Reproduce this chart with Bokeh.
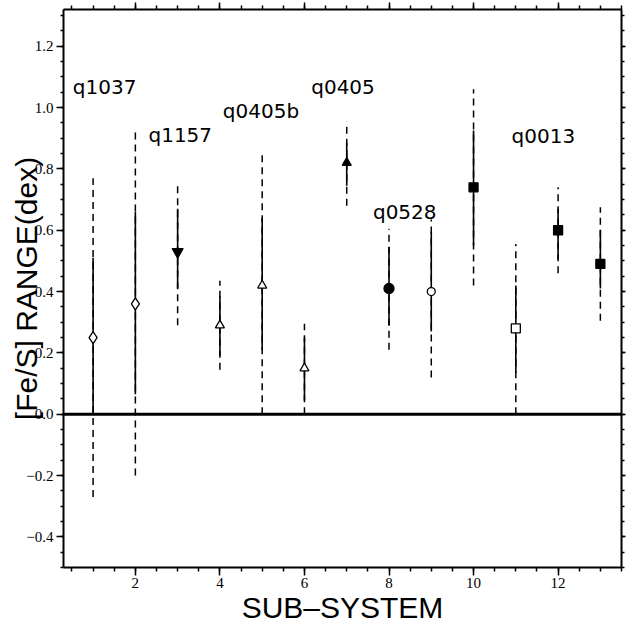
from bokeh.plotting import figure
from bokeh.models import LinearAxis, FixedTicker, Span, ColumnDataSource
from bokeh.core.properties import value
from bokeh.embed import file_html
from bokeh.resources import INLINE

# ---- data ----
subsystem = [1, 2, 3, 4, 5, 6, 7, 8, 9, 10, 11, 12, 13]
fes_value = [0.25, 0.36, 0.53, 0.29, 0.42, 0.15, 0.82, 0.41, 0.40, 0.74, 0.28, 0.60, 0.49]
solid_lo = [0.00, 0.065, 0.41, 0.19, 0.21, 0.045, 0.745, 0.29, 0.27, 0.55, 0.135, 0.505, 0.41]
solid_hi = [0.51, 0.66, 0.67, 0.385, 0.64, 0.25, 0.885, 0.545, 0.595, 0.925, 0.42, 0.67, 0.60]
dash_lo = [-0.27, -0.20, 0.29, 0.145, 0.00, 0.00, 0.68, 0.21, 0.12, 0.42, 0.00, 0.46, 0.305]
dash_hi = [0.77, 0.925, 0.75, 0.435, 0.845, 0.295, 0.955, 0.605, 0.635, 1.06, 0.555, 0.74, 0.675]
marker_kind = ["diamond", "diamond", "inverted_triangle", "triangle", "triangle", "triangle",
               "triangle", "circle", "circle", "square", "square", "square", "square"]
marker_filled = [False, False, True, False, False, False, True, True, False, True, False, True, True]
marker_size = [12, 12, 11, 9, 9, 9, 9, 10, 8, 9, 9, 9, 9]

qso_names = ["q1037", "q1157", "q0405b", "q0405", "q0528", "q0013"]
qso_x = [0.52, 2.31, 4.07, 6.16, 7.62, 10.9]
qso_y = [1.068, 0.912, 0.99, 1.066, 0.658, 0.907]

x_major = [2, 4, 6, 8, 10, 12]
y_major = [-0.4, -0.2, 0.0, 0.2, 0.4, 0.6, 0.8, 1.0, 1.2]
y_labels = ["\u22120.4", "\u22120.2", "0.0", "0.2", "0.4", "0.6", "0.8", "1.0", "1.2"]

x_minor = [0.5 * i for i in range(1, 28)]
y_minor = [round(-0.5 + 0.05 * i, 2) for i in range(0, 37)]

# ---- figure ----
p = figure(width=626, height=626, x_range=(0.3, 13.5), y_range=(-0.5, 1.32),
           output_backend="svg", toolbar_location=None,
           min_border_left=63, min_border_right=5, min_border_top=9, min_border_bottom=58)
p.outline_line_color = None
p.xgrid.visible = False
p.ygrid.visible = False
p.background_fill_color = "white"
p.border_fill_color = "white"

tick_font = "Liberation Serif"

def common(ax):
    ax.axis_line_color = "black"
    ax.axis_line_width = 2
    ax.major_tick_line_color = "black"
    ax.minor_tick_line_color = "black"
    ax.major_tick_line_width = 1.5
    ax.minor_tick_line_width = 1.5
    ax.major_tick_in = 0
    ax.minor_tick_in = 0
    ax.major_label_text_font = tick_font
    ax.major_label_text_color = "black"

def style_x(ax, labels=True):
    common(ax)
    ax.ticker = FixedTicker(ticks=x_major, minor_ticks=x_minor)
    if labels:
        ax.major_tick_out = 8
        ax.minor_tick_out = 4
        ax.major_label_text_font_size = "15px"
        ax.major_label_standoff = 2
    else:
        ax.major_tick_out = 7
        ax.minor_tick_out = 4
        ax.major_label_text_font_size = "1px"
        ax.major_label_standoff = 0
        ax.major_label_overrides = {v: "" for v in x_major}

def style_y(ax, labels=True):
    common(ax)
    ax.ticker = FixedTicker(ticks=y_major, minor_ticks=y_minor)
    if labels:
        ax.major_tick_out = 7
        ax.minor_tick_out = 3
        ax.major_label_text_font_size = "15px"
        ax.major_label_standoff = 3
        ax.major_label_overrides = {v: s for v, s in zip(y_major, y_labels)}
    else:
        ax.major_tick_out = 4
        ax.minor_tick_out = 3
        ax.major_label_text_font_size = "1px"
        ax.major_label_standoff = 0
        ax.major_label_overrides = {v: "" for v in y_major}

style_x(p.xaxis[0])
style_y(p.yaxis[0])

p.xaxis[0].axis_label = "SUB\u2013SYSTEM"
p.xaxis[0].axis_label_text_font = "Liberation Sans"
p.xaxis[0].axis_label_text_font_size = "30px"
p.xaxis[0].axis_label_text_font_style = "normal"
p.xaxis[0].axis_label_text_color = "black"
p.xaxis[0].axis_label_standoff = 0

p.yaxis[0].axis_label = "[Fe/S] RANGE(dex)"
p.yaxis[0].axis_label_text_font = "Liberation Sans"
p.yaxis[0].axis_label_text_font_size = "30px"
p.yaxis[0].axis_label_text_font_style = "normal"
p.yaxis[0].axis_label_text_color = "black"
p.yaxis[0].axis_label_standoff = -20

top_ax = LinearAxis()
style_x(top_ax, labels=False)
p.add_layout(top_ax, "above")
right_ax = LinearAxis()
style_y(right_ax, labels=False)
p.add_layout(right_ax, "right")

# zero line
p.add_layout(Span(location=0, dimension="width", line_color="black", line_width=3))

# error bars: dashed full range, solid inner range
src = ColumnDataSource(dict(x=subsystem, v=fes_value, slo=solid_lo, shi=solid_hi,
                            dlo=dash_lo, dhi=dash_hi, marker=marker_kind,
                            fill=["black" if f else "white" for f in marker_filled],
                            size=marker_size))
p.segment(x0="x", y0="dlo", x1="x", y1="dhi", source=src, line_color="black",
          line_width=1.5, line_dash="7 5")
p.segment(x0="x", y0="slo", x1="x", y1="shi", source=src, line_color="black",
          line_width=1.6)
p.scatter(x="x", y="v", marker="marker", size="size", fill_color="fill",
          line_color="black", line_width=1.3, source=src)

# QSO labels
p.text(x=qso_x, y=qso_y, text=qso_names, text_font=value("DejaVu Sans"),
       text_font_size="20px", text_color="black", text_align="left",
       text_baseline="alphabetic")

open("out.html", "w").write(file_html(p, INLINE))
